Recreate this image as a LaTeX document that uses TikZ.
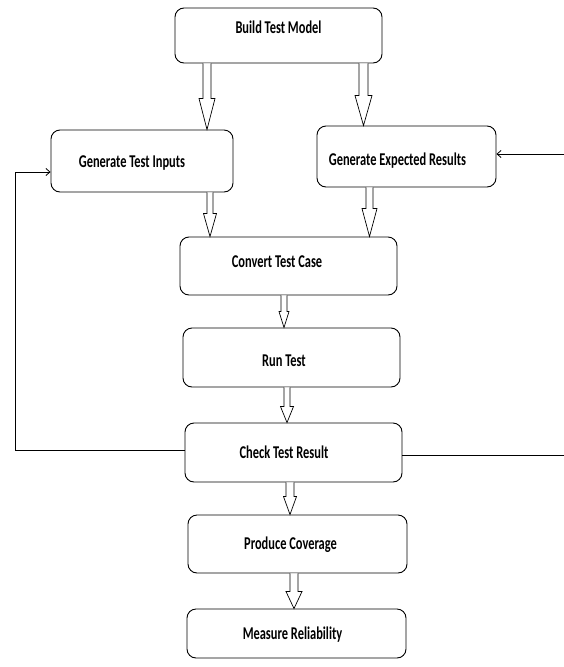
\documentclass[tikz,border=0pt]{standalone}
\usepackage{fontspec}
\newfontfamily\boxfont{Carlito}[FakeStretch=0.69]
\usetikzlibrary{arrows.meta}

% move the label inside its box
\newcommand{\nudge}[3]{\raisebox{#2}[\height][\depth]{\hspace*{#1}\hspace*{#1}#3}}
% hollow block arrow: from, to, x, shaft half, head half, head length
\newcommand{\hollowarrow}[6]{%
  \path (#1.south -| #3,0) coordinate (ha_s) (#2.north -| #3,0) coordinate (ha_e);
  \draw[line width=0.7pt, fill=white]
    ([xshift=-#4pt]ha_s) -- ([xshift=-#4pt, yshift=#6pt]ha_e) -- ([xshift=-#5pt, yshift=#6pt]ha_e)
    -- (ha_e) -- ([xshift=#5pt, yshift=#6pt]ha_e) -- ([xshift=#4pt, yshift=#6pt]ha_e) -- ([xshift=#4pt]ha_s);
}

\begin{document}
\begin{tikzpicture}[x=1pt, y=-1pt,
    box/.style={draw, line width=0.9pt, rounded corners=9pt, fill=white, inner sep=0pt,
      font=\boxfont\bfseries\fontsize{18}{21}\selectfont},
    feedback/.style={line width=0.8pt, -{Straight Barb[length=4pt, width=7pt]}}]
    \useasboundingbox (0,0) rectangle (563,667);
    \node[box, minimum width=207pt, minimum height=55pt] (build) at (278.5,35.5) {\nudge{0pt}{8.5pt}{Build Test Model}};
    \node[box, minimum width=182pt, minimum height=62pt] (inputs) at (142,161) {\nudge{-10pt}{-2pt}{Generate Test Inputs}};
    \node[box, minimum width=179pt, minimum height=61pt] (expected) at (406.5,156.5) {\nudge{-9pt}{-4.5pt}{Generate Expected Results}};
    \node[box, minimum width=217pt, minimum height=58pt] (convert) at (288.5,266) {\nudge{-11.5pt}{4pt}{Convert Test Case}};
    \node[box, minimum width=217pt, minimum height=59pt] (run) at (291.5,357.5) {\nudge{-7.5pt}{-3.5pt}{Run Test}};
    \node[box, minimum width=217pt, minimum height=59pt] (check) at (293.5,452.5) {\nudge{-9.5pt}{0pt}{Check Test Result}};
    \node[box, minimum width=219pt, minimum height=58pt] (coverage) at (297.5,544) {\nudge{-7pt}{-1pt}{Produce Coverage}};
    \node[box, minimum width=219pt, minimum height=49pt] (reliab) at (296.5,633.5) {\nudge{-4pt}{-1.5pt}{Measure Reliability}};

    \hollowarrow{build}{inputs}{207}{4}{8}{31}
    \hollowarrow{build}{expected}{363.5}{4.5}{8.5}{30}
    \hollowarrow{inputs}{convert}{210}{3}{6.5}{23}
    \hollowarrow{expected}{convert}{369.5}{3.5}{7.5}{28}
    \hollowarrow{convert}{run}{284}{3}{5}{16}
    \hollowarrow{run}{check}{287}{3}{6.5}{16}
    \hollowarrow{check}{coverage}{290}{4}{6.5}{18}
    \hollowarrow{coverage}{reliab}{294}{4}{8}{17}

    % loops back from the check
    \draw[feedback] ([yshift=2.5pt]check.west) -- ++(-169,0) |- ([yshift=-11pt]inputs.west);
    \draw[feedback] ([yshift=-2.5pt]check.east) -- ++(166,0) |- ([yshift=2.5pt]expected.east);
\end{tikzpicture}
\end{document}
